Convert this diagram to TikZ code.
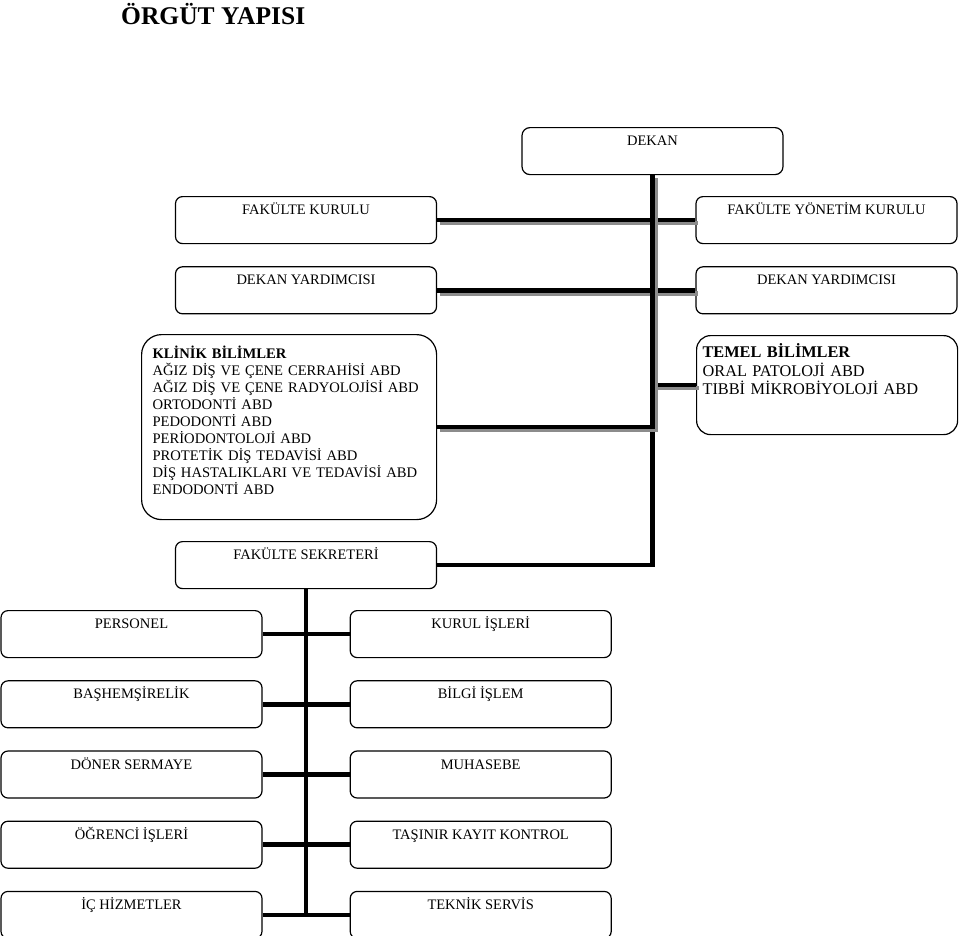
\documentclass[tikz,border=0pt]{standalone}
\usepackage{fontspec}
\setmainfont{Liberation Serif}
\usetikzlibrary{positioning}

\tikzset{
  birim/.style={draw, line width=1.2pt, rounded corners=7pt, minimum width=261pt,
    inner sep=0pt, text height=18pt, text depth=29pt, font=\fontsize{14.5}{17}\selectfont},
  hat/.style={line width=4.5pt},
  golgeli/.style={preaction={draw, gray!90, line width=4.5pt, transform canvas={shift={(3pt,-3pt)}}}},
}

\begin{document}
\begin{tikzpicture}[x=1pt, y=-1pt]
  \useasboundingbox (0,0) rectangle (960,935);
  \node[font=\bfseries\fontsize{25.5}{28}\selectfont, anchor=base west, inner sep=0pt] (baslik) at (121,24) {ÖRGÜT YAPISI};

  \node[birim, anchor=north, rounded corners=8pt] (dekan) at (652.5,127) {DEKAN};
  \node[birim, anchor=north] (kurul) at (306,196) {FAKÜLTE KURULU};
  \node[birim, anchor=north] (yonetim) at (826.5,196) {FAKÜLTE YÖNETİM KURULU};
  \node[birim, below=22pt of kurul] (yard1) {DEKAN YARDIMCISI};
  \node[birim, below=22pt of yonetim] (yard2) {DEKAN YARDIMCISI};
  \node[birim, anchor=north west, rounded corners=20pt, inner xsep=11pt, text width=273pt, align=left,
        text height=24pt, text depth=161pt, font=\fontsize{14.6}{17}\selectfont] (klinik) at (141,334)
        {\textbf{KLİNİK BİLİMLER}\\
         AĞIZ DİŞ VE ÇENE CERRAHİSİ ABD\\
         AĞIZ DİŞ VE ÇENE RADYOLOJİSİ ABD\\
         ORTODONTİ ABD\\
         PEDODONTİ ABD\\
         PERİODONTOLOJİ ABD\\
         PROTETİK DİŞ TEDAVİSİ ABD\\
         DİŞ HASTALIKLARI VE TEDAVİSİ ABD\\
         ENDODONTİ ABD};
  \node[birim, anchor=north west, rounded corners=14pt, inner xsep=6pt, text width=249pt, align=left,
        text height=22pt, text depth=77pt, font=\fontsize{16.3}{18.5}\selectfont] (temel) at (696,335)
        {\textbf{TEMEL BİLİMLER}\\
         ORAL PATOLOJİ ABD\\
         TIBBİ MİKROBİYOLOJİ ABD};
  \node[birim, anchor=north] (sekreter) at (306,541) {FAKÜLTE SEKRETERİ};

  \node[birim, anchor=north] (pers) at (131.5,610) {PERSONEL};
  \node[birim, right=87pt of pers] (kisler) {KURUL İŞLERİ};
  \node[birim, below=22pt of pers] (bas) {BAŞHEMŞİRELİK};
  \node[birim, below=22pt of kisler] (bilgi) {BİLGİ İŞLEM};
  \node[birim, below=22pt of bas] (doner) {DÖNER SERMAYE};
  \node[birim, below=22pt of bilgi] (muh) {MUHASEBE};
  \node[birim, below=22pt of doner] (ogr) {ÖĞRENCİ İŞLERİ};
  \node[birim, below=22pt of muh] (tasinir) {TAŞINIR KAYIT KONTROL};
  \node[birim, below=22pt of ogr] (ic) {İÇ HİZMETLER};
  \node[birim, below=22pt of tasinir] (teknik) {TEKNİK SERVİS};

  \draw[hat] (dekan.south) |- (sekreter.east);
  \draw[hat, golgeli] (kurul.east) -- (yonetim.west);
  \draw[hat, golgeli] (yard1.east) -- (yard2.west);
  \draw[hat, golgeli] (dekan.south |- temel.west) -- (temel.west);
  \draw[hat, golgeli] (dekan.south) |- (klinik.east);

  \draw[hat] (sekreter.south) -- (sekreter.south |- ic.east);
  \foreach \a/\b in {pers/kisler, bas/bilgi, doner/muh, ogr/tasinir, ic/teknik}
    \draw[hat] (\a.east) -- (\b.west);
\end{tikzpicture}
\end{document}
